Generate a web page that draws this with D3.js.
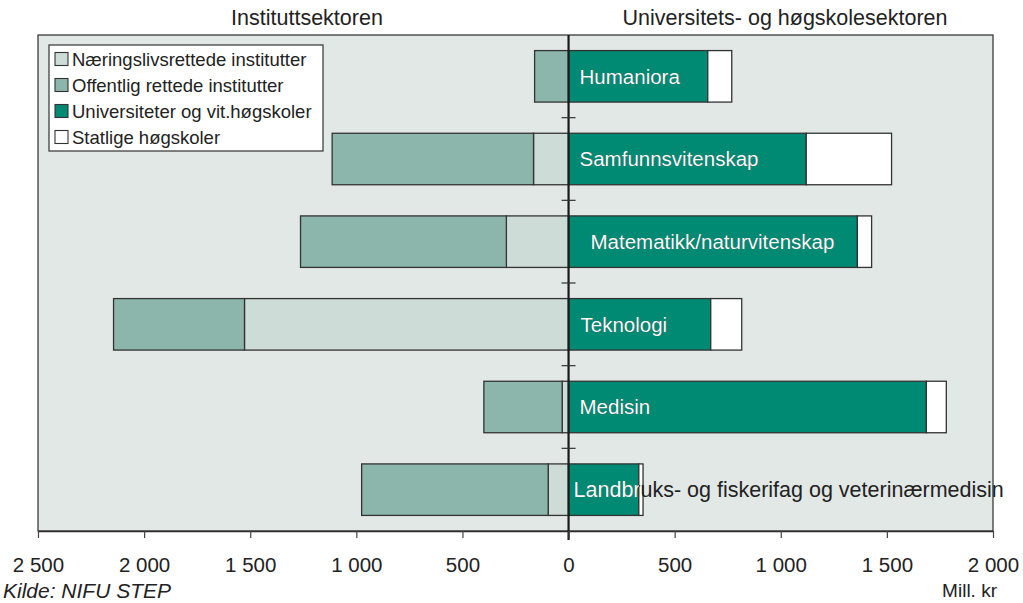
<!DOCTYPE html>
<html>
<head>
<meta charset="utf-8">
<script src="https://cdn.jsdelivr.net/npm/d3@7"></script>
<style>
    body { margin: 0; background: #fff; }
    svg { display: block; font-family: "Liberation Sans", Arial, sans-serif; }
</style>
</head>
<body>
<svg id="chart" width="1023" height="603"></svg>
<script>
const categories = [
    "Humaniora",
    "Samfunnsvitenskap",
    "Matematikk/naturvitenskap",
    "Teknologi",
    "Medisin",
    "Landbruks- og fiskerifag og veterinærmedisin"
];
// Instituttsektoren (drawn to the left)
const naeringsliv = [0, 165, 293, 1527, 30, 96];
const offentlig = [160, 949, 970, 617, 369, 879];
// Universitets- og høgskolesektoren (drawn to the right)
const universiteter = [656, 1120, 1361, 670, 1686, 331];
const statlige = [113, 402, 67, 146, 94, 20];

const seriesNames = [
    "Næringslivsrettede institutter",
    "Offentlig rettede institutter",
    "Universiteter og vit.høgskoler",
    "Statlige høgskoler"
];
const seriesColors = ["#cddcd6", "#8cb6ab", "#008a74", "#ffffff"];
const xTicks = [-2500, -2000, -1500, -1000, -500, 0, 500, 1000, 1500, 2000];
const sectorTitles = ["Instituttsektoren", "Universitets- og høgskolesektoren"];

class ButterflyChart {
    margin = {
        top: 35, right: 30, bottom: 72, left: 38
    }

    constructor(svg, width = 1023, height = 603) {
        this.svg = d3.select(svg);
        this.width = width;
        this.height = height;
    }

    initialize() {
        const m = this.margin;
        this.innerW = this.width - m.left - m.right;
        this.innerH = this.height - m.top - m.bottom;

        this.xScale = d3.scaleLinear()
            .domain([-2500, 2000])
            .range([m.left, m.left + this.innerW]);
        this.yScale = d3.scaleBand()
            .domain(categories)
            .range([m.top, m.top + this.innerH])
            .paddingInner(0.377)
            .paddingOuter(0.1885);

        const locale = d3.formatLocale({decimal: ",", thousands: " ", grouping: [3], currency: ["", " kr"]});
        this.fmt = locale.format(",d");

        this.bg = this.svg.append("g");
        this.bars = this.svg.append("g");
        this.labels = this.svg.append("g");
        this.axis = this.svg.append("g");
        this.legend = this.svg.append("g");
        this.texts = this.svg.append("g");
    }

    update() {
        const x = this.xScale, y = this.yScale, m = this.margin;
        const x0 = x(0);

        this.bg.append("rect")
            .attr("x", x(-2500))
            .attr("y", m.top)
            .attr("width", x(2000) - x(-2500))
            .attr("height", this.innerH)
            .attr("fill", "#e2e8e5")
            .attr("stroke", "#2b2b2b")
            .attr("stroke-width", 1.2);

        // one record per segment
        const segs = [];
        categories.forEach((c, i) => {
            segs.push({c, s: 0, a: -naeringsliv[i], b: 0});
            segs.push({c, s: 1, a: -naeringsliv[i] - offentlig[i], b: -naeringsliv[i]});
            segs.push({c, s: 2, a: 0, b: universiteter[i]});
            segs.push({c, s: 3, a: universiteter[i], b: universiteter[i] + statlige[i]});
        });

        this.bars.selectAll("rect")
            .data(segs.filter(d => d.b - d.a > 0))
            .join("rect")
                .attr("x", d => x(d.a))
                .attr("y", d => y(d.c))
                .attr("width", d => x(d.b) - x(d.a))
                .attr("height", y.bandwidth())
                .attr("fill", d => seriesColors[d.s])
                .attr("stroke", "#333")
                .attr("stroke-width", 1.3);

        // clip for white label text: the teal part of each bar
        const defs = this.svg.append("defs");
        defs.append("clipPath")
            .attr("id", "teal-clip")
            .selectAll("rect")
            .data(categories)
            .join("rect")
                .attr("x", x0)
                .attr("y", d => y(d))
                .attr("width", (d, i) => x(universiteter[i]) - x0)
                .attr("height", y.bandwidth());

        const labelDx = [11, 11, 22, 12, 11, 5];
        const placeLabel = sel => sel
            .attr("x", (d, i) => x0 + labelDx[i])
            .attr("y", d => y(d) + y.bandwidth() / 2)
            .attr("dy", "0.35em")
            .attr("font-size", (d, i) => i === 5 ? "21.5px" : "20.5px");

        this.labels.selectAll(".dark")
            .data(categories)
            .join("text")
                .attr("class", "dark")
                .call(placeLabel)
                .attr("fill", "#222")
                .text(d => d);
        this.labels.selectAll(".light")
            .data(categories)
            .join("text")
                .attr("class", "light")
                .call(placeLabel)
                .attr("fill", "#fff")
                .attr("clip-path", "url(#teal-clip)")
                .text(d => d);

        // zero line and category separators on it
        this.axis.append("line")
            .attr("x1", x0).attr("x2", x0)
            .attr("y1", m.top).attr("y2", m.top + this.innerH + 9)
            .attr("stroke", "#1a1a1a")
            .attr("stroke-width", 2.2);
        const step = y.step();
        this.axis.selectAll(".sep")
            .data(categories.slice(1))
            .join("line")
                .attr("class", "sep")
                .attr("x1", x0 - 7).attr("x2", x0 + 7)
                .attr("y1", d => y(d) - step * y.paddingInner() / 2)
                .attr("y2", d => y(d) - step * y.paddingInner() / 2)
                .attr("stroke", "#333")
                .attr("stroke-width", 1.2);

        const xAxis = this.axis.append("g")
            .attr("transform", `translate(0,${m.top + this.innerH})`)
            .call(d3.axisBottom(x)
                .tickValues(xTicks)
                .tickFormat(d => this.fmt(Math.abs(d)))
                .tickSize(7)
                .tickSizeOuter(0)
                .tickPadding(19));
        xAxis.select(".domain").attr("stroke", "#2b2b2b").attr("stroke-width", 1.6);
        xAxis.selectAll(".tick line").attr("stroke", "#444").attr("stroke-width", 1.2);
        xAxis.selectAll(".tick text")
            .attr("fill", "#222")
            .style("font-family", "'Liberation Sans', Arial, sans-serif")
            .style("font-size", "20.5px");

        // legend
        this.legend.attr("transform", "translate(49,45)");
        this.legend.append("rect")
            .attr("width", 274)
            .attr("height", 106)
            .attr("fill", "#fff")
            .attr("stroke", "#333")
            .attr("stroke-width", 1.2);
        const items = this.legend.selectAll(".item")
            .data(seriesNames)
            .join("g")
                .attr("class", "item")
                .attr("transform", (d, i) => `translate(6,${14 + i * 26})`);
        items.append("rect")
            .attr("x", 0).attr("y", -6.5)
            .attr("width", 13).attr("height", 13)
            .attr("fill", (d, i) => seriesColors[i])
            .attr("stroke", "#333")
            .attr("stroke-width", 1.1);
        items.append("text")
            .attr("x", 17)
            .attr("dy", "0.36em")
            .attr("font-size", "18.5px")
            .attr("fill", "#222")
            .text(d => d);

        // sector titles and footer texts
        this.texts.selectAll(".sector")
            .data(sectorTitles)
            .join("text")
                .attr("class", "sector")
                .attr("x", (d, i) => i === 0 ? 307 : 785)
                .attr("y", 25)
                .attr("text-anchor", "middle")
                .attr("font-size", "21.5px")
                .attr("fill", "#222")
                .text(d => d);
        this.texts.append("text")
            .attr("x", 3)
            .attr("y", 598)
            .attr("font-size", "21px")
            .attr("font-style", "italic")
            .attr("fill", "#222")
            .text("Kilde: NIFU STEP");
        this.texts.append("text")
            .attr("x", 997)
            .attr("y", 597)
            .attr("text-anchor", "end")
            .attr("font-size", "19px")
            .attr("fill", "#222")
            .text("Mill. kr");
    }
}

const chart = new ButterflyChart("#chart");
chart.initialize();
chart.update();
</script>
</body>
</html>
